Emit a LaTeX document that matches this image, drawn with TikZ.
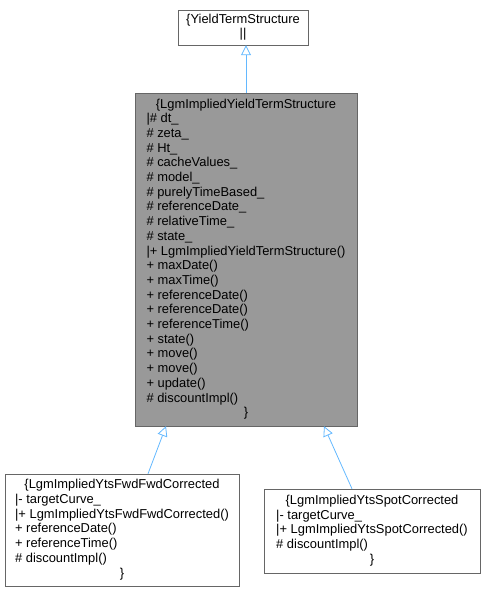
\documentclass[tikz,border=0pt]{standalone}
\usepackage{fontspec}
\setmainfont{Liberation Sans}
\usetikzlibrary{arrows.meta}
\definecolor{edgeblue}{HTML}{63B8FF}
\definecolor{boxline}{HTML}{666666}
\definecolor{boxfill}{HTML}{999999}
\tikzset{
  cls/.style={draw=boxline, fill=white, inner sep=0pt, font=\fontsize{12.9}{14.7}\selectfont},
  inherit/.style={draw=edgeblue, line width=0.8pt, -{Triangle[open, length=10pt, width=10pt]}},
}
\newcommand{\ttl}[1]{\multicolumn{1}{c}{#1}}
\begin{document}
\begin{tikzpicture}[x=1pt, y=-1pt]
  \useasboundingbox (0,0) rectangle (485,593);

  % Base class
  \node[cls, minimum width=130pt, minimum height=35pt] (yts) at (243,27.5)
    {\begin{tabular}{@{}c@{}}\{YieldTermStructure\\ \textbar\textbar\end{tabular}};

  % Implied structure
  \node[cls, fill=boxfill, minimum width=222pt, minimum height=333pt] (lgm) at (246,259.5)
    {\begin{tabular}{@{}l@{}}
      \ttl{\{LgmImpliedYieldTermStructure}\\
      \textbar\# dt\_\\
      \# zeta\_\\
      \# Ht\_\\
      \# cacheValues\_\\
      \# model\_\\
      \# purelyTimeBased\_\\
      \# referenceDate\_\\
      \# relativeTime\_\\
      \# state\_\\
      \textbar+ LgmImpliedYieldTermStructure()\\
      + maxDate()\\
      + maxTime()\\
      + referenceDate()\\
      + referenceDate()\\
      + referenceTime()\\
      + state()\\
      + move()\\
      + move()\\
      + update()\\
      \# discountImpl()\\
      \ttl{\}}
    \end{tabular}};

  % Derived classes
  \node[cls, minimum width=234pt, minimum height=112pt] (fwd) at (122,530)
    {\begin{tabular}{@{}l@{}}
      \ttl{\{LgmImpliedYtsFwdFwdCorrected}\\
      \textbar- targetCurve\_\\
      \textbar+ LgmImpliedYtsFwdFwdCorrected()\\
      + referenceDate()\\
      + referenceTime()\\
      \# discountImpl()\\
      \ttl{\}}
    \end{tabular}};
  \node[cls, minimum width=216pt, minimum height=84pt] (spot) at (372,531)
    {\begin{tabular}{@{}l@{}}
      \ttl{\{LgmImpliedYtsSpotCorrected}\\
      \textbar- targetCurve\_\\
      \textbar+ LgmImpliedYtsSpotCorrected()\\
      \# discountImpl()\\
      \ttl{\}}
    \end{tabular}};

  \draw[inherit] (lgm.north) -- (lgm.north |- yts.south);
  \draw[inherit] ([xshift=26pt]fwd.north) -- ([xshift=-80pt]lgm.south);
  \draw[inherit] ([xshift=-20pt]spot.north) -- ([xshift=78pt]lgm.south);
\end{tikzpicture}
\end{document}
